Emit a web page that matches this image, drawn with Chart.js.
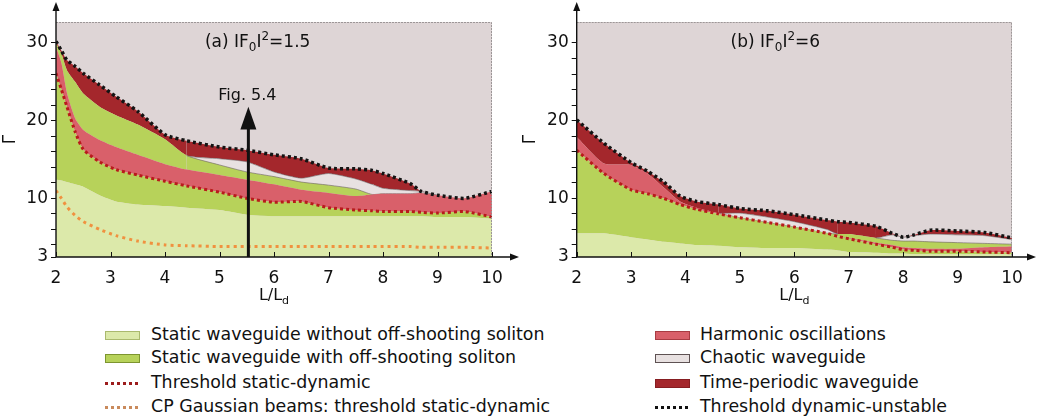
<!DOCTYPE html>
<html>
<head>
<meta charset="utf-8">
<script src="https://cdn.jsdelivr.net/npm/chart.js@4.4.1/dist/chart.umd.min.js"></script>
<style>
  body { margin: 0; width: 1037px; height: 420px; overflow: hidden; position: relative; background: #fff;
         font-family: "DejaVu Sans", sans-serif; color: #111; }
  .wrap { position: absolute; top: 0; height: 310px; }
  .leg { position: absolute; font-size: 17.4px; line-height: 20px; white-space: nowrap; }
  .sw { position: absolute; width: 35px; height: 9px; box-sizing: border-box; border: 1px solid; }
  .dots { position: absolute; width: 34px; height: 3px; }
</style>
</head>
<body>
<div class="wrap" style="left:0;width:520px"><canvas id="chartA" width="520" height="310"></canvas></div>
<div class="wrap" style="left:520px;width:517px"><canvas id="chartB" width="517" height="310"></canvas></div>

<div id="legend"></div>

<script>
/* ---------- colours ---------- */
const COL = {
  bg: "#ded5d6",
  light: "#dce9aa",
  green: "#b7d25a",
  pink: "#d9606a",
  chaos: "#e8e1e1",
  dark: "#a4272c",
  thrSD: "#b81b1b",
  cp: "#f0913f",
  thrDU: "#141414",
};

/* ---------- axis settings ---------- */
const Y_MIN = 2.45, Y_MAX = 32.7;
const yLabelTicks = [10, 20, 30];
const yMinorTicks = [4, 6, 8, 12, 14, 16, 18, 22, 24, 26, 28];
const yBottomLabel = "3";
const xTicks = [2, 3, 4, 5, 6, 7, 8, 9, 10];

/* ---------- panel (a) |F0|^2 = 1.5 : region boundaries ---------- */
const xA = [2, 2.1, 2.2, 2.35, 2.5, 2.8, 3.1, 3.5, 4, 4.4, 5, 5.5, 6, 6.5, 7, 7.5, 7.8, 8, 8.5, 8.7, 9, 9.5, 10];
const lightTopA = [12.4, 12.3, 12.1, 11.8, 11.5, 10.4, 9.6, 9.2, 9.0, 8.8, 8.5, 7.9, 7.7, 7.7, 7.7, 7.7, 7.7, 7.7, 7.7, 7.7, 7.6, 7.6, 7.4];
const thrSDA    = [26.1, 24.0, 21.8, 18.6, 16.3, 14.7, 13.7, 13.0, 12.2, 11.6, 10.8, 10.0, 9.5, 9.6, 8.8, 8.5, 8.4, 8.3, 8.3, 8.2, 8.1, 8.3, 7.6];
const harmTopA  = [29.5, 27.4, 23.6, 20.3, 18.8, 17.5, 16.6, 15.6, 14.4, 13.7, 13.0, 12.4, 11.8, 11.1, 10.7, 10.3, 10.5, 10.6, 10.6, 10.7, 10.4, 10.0, 10.9];
const greenTopA = [30.0, 28.6, 26.5, 25.0, 23.5, 21.8, 20.7, 19.5, 17.6, 15.5, 14.3, 13.4, 12.8, 12.1, 11.7, 11.2, 10.5, 10.6, 10.6, 10.7, 10.4, 10.0, 10.9];
const chaosTopA = [30.0, 28.6, 26.5, 25.0, 23.5, 21.8, 20.7, 19.5, 17.6, 15.5, 15.1, 14.7, 13.4, 12.6, 13.2, 12.5, 11.8, 11.3, 11.0, 10.9, 10.4, 10.0, 10.9];
const thrDUA    = [30.2, 29.0, 27.8, 27.0, 26.1, 24.6, 23.1, 21.2, 18.2, 17.4, 16.6, 16.2, 15.6, 15.1, 13.9, 13.8, 13.6, 13.2, 11.9, 10.9, 10.4, 10.0, 10.9];
const cpA       = [11.0, 10.0, 8.9, 7.8, 7.0, 6.0, 5.2, 4.5, 4.0, 3.9, 3.8, 3.8, 3.8, 3.8, 3.8, 3.8, 3.8, 3.8, 3.8, 3.7, 3.7, 3.7, 3.6];

/* ---------- panel (b) |F0|^2 = 6 : region boundaries ---------- */
const xB = [2, 2.5, 3, 3.3, 3.6, 3.9, 4.2, 4.6, 5, 5.5, 6, 6.6, 6.8, 7, 7.5, 7.8, 8, 8.2, 8.5, 9, 9.5, 10];
const lightTopB = [5.5, 5.5, 5.0, 4.7, 4.4, 4.2, 4.0, 3.9, 3.7, 3.6, 3.6, 3.4, 3.3, 3.1, 3.0, 2.9, 2.9, 2.8, 2.8, 2.8, 2.8, 2.8];
const thrSDB    = [16.2, 13.2, 11.1, 10.6, 10.0, 9.2, 8.6, 8.0, 7.5, 6.9, 6.3, 5.5, 5.1, 4.8, 4.1, 3.7, 3.4, 3.3, 3.2, 3.2, 3.1, 3.0];
const harmTopB  = [17.9, 14.5, 14.3, 13.2, 11.4, 9.6, 8.8, 8.1, 7.5, 6.9, 6.3, 5.5, 5.1, 4.9, 4.3, 4.0, 3.7, 3.6, 3.5, 3.5, 3.7, 3.8];
const greenTopB = [17.9, 14.5, 14.3, 13.2, 11.4, 9.6, 8.8, 8.1, 7.5, 6.9, 6.3, 5.5, 5.4, 5.4, 4.9, 4.6, 4.5, 4.5, 4.4, 4.3, 4.2, 4.1];
const chaosTopB = [17.9, 14.5, 14.3, 13.2, 11.4, 9.6, 8.8, 8.1, 8.1, 7.6, 7.0, 6.0, 5.4, 5.4, 4.9, 5.3, 5.0, 5.2, 5.4, 5.3, 5.2, 4.7];
const thrDUB    = [20.1, 17.1, 14.6, 13.5, 12.1, 10.3, 9.6, 9.2, 8.7, 8.4, 7.9, 7.2, 7.0, 6.9, 6.4, 5.5, 5.0, 5.3, 5.9, 5.8, 5.6, 4.9];

/* ---------- legend ---------- */
const legendLeft = [
  { type: "box", label: "Static waveguide without off-shooting soliton", fill: COL.light, edge: "#aab96e" },
  { type: "box", label: "Static waveguide with off-shooting soliton", fill: COL.green, edge: "#7d9530" },
  { type: "dots", label: "Threshold static-dynamic", color: "#9c1c1c" },
  { type: "dots", label: "CP Gaussian beams: threshold static-dynamic", color: "#c98a5c" },
];
const legendRight = [
  { type: "box", label: "Harmonic oscillations", fill: COL.pink, edge: "#a83c43" },
  { type: "box", label: "Chaotic waveguide", fill: COL.chaos, edge: "#5e5253" },
  { type: "box", label: "Time-periodic waveguide", fill: COL.dark, edge: "#861d21" },
  { type: "dots", label: "Threshold dynamic-unstable", color: "#111" },
];
const legendRows = [334, 357, 382, 406];

Chart.defaults.font.family = "'DejaVu Sans', sans-serif";
Chart.defaults.color = "#111";

/* draw text with _sub and ^sup parts, centred on x */
function drawRich(ctx, parts, cx, cy, size) {
  const small = Math.round(size * 0.68);
  let w = 0;
  parts.forEach(p => {
    ctx.font = (p[1] === "n" ? size : small) + "px 'DejaVu Sans'";
    w += ctx.measureText(p[0]).width;
  });
  let x = cx - w / 2;
  ctx.textBaseline = "middle";
  ctx.textAlign = "left";
  parts.forEach(p => {
    ctx.font = (p[1] === "n" ? size : small) + "px 'DejaVu Sans'";
    const dy = p[1] === "sub" ? size * 0.3 : p[1] === "sup" ? -size * 0.38 : 0;
    ctx.fillText(p[0], x, cy + dy);
    x += ctx.measureText(p[0]).width;
  });
}

function makeDecor(label, labelX, withFig) {
  return {
    id: "decor",
    beforeDraw(chart) {
      const { ctx, chartArea: a } = chart;
      ctx.save();
      ctx.fillStyle = COL.bg;
      ctx.fillRect(a.left, a.top, a.right - a.left, a.bottom - a.top);
      ctx.restore();
    },
    afterDraw(chart) {
      const { ctx, chartArea: a, scales: { x, y } } = chart;
      ctx.save();
      // light frame on top / right
      ctx.strokeStyle = "#9c9697";
      ctx.lineWidth = 1;
      ctx.setLineDash([2, 1]);
      ctx.beginPath();
      ctx.moveTo(a.left, a.top + 0.5);
      ctx.lineTo(a.right - 0.5, a.top + 0.5);
      ctx.lineTo(a.right - 0.5, a.bottom);
      ctx.stroke();
      ctx.setLineDash([]);
      // axes with arrows
      ctx.strokeStyle = "#111";
      ctx.fillStyle = "#111";
      ctx.lineWidth = 1.4;
      ctx.beginPath();
      ctx.moveTo(a.left, a.bottom);
      ctx.lineTo(a.left, 8);
      ctx.moveTo(a.left, a.bottom);
      ctx.lineTo(chart.width - 8, a.bottom);
      ctx.stroke();
      ctx.beginPath();
      ctx.moveTo(a.left, 2); ctx.lineTo(a.left - 3.5, 11); ctx.lineTo(a.left + 3.5, 11); ctx.closePath();
      ctx.fill();
      ctx.beginPath();
      ctx.moveTo(chart.width - 1, a.bottom); ctx.lineTo(chart.width - 10, a.bottom - 3.5); ctx.lineTo(chart.width - 10, a.bottom + 3.5); ctx.closePath();
      ctx.fill();
      // x ticks pointing inside
      ctx.lineWidth = 1;
      xTicks.forEach(v => {
        const px = Math.round(x.getPixelForValue(v)) + 0.5;
        ctx.beginPath();
        ctx.moveTo(px, a.bottom);
        ctx.lineTo(px, a.bottom - 5);
        ctx.stroke();
      });
      // x-axis title L/L_d
      drawRich(ctx, [["L/L", "n"], ["d", "sub"]], (a.left + a.right) / 2, 296, 16);
      // panel label
      drawRich(ctx, label, x.getPixelForValue(labelX), y.getPixelForValue(30), 17);
      if (withFig) {
        const fx = x.getPixelForValue(5.53);
        const tip = y.getPixelForValue(21.8), base = y.getPixelForValue(19.0);
        ctx.lineWidth = 3;
        ctx.beginPath();
        ctx.moveTo(fx, a.bottom);
        ctx.lineTo(fx, base);
        ctx.stroke();
        ctx.beginPath();
        ctx.moveTo(fx, tip); ctx.lineTo(fx - 8, base + 1); ctx.lineTo(fx + 8, base + 1); ctx.closePath();
        ctx.fill();
        drawRich(ctx, [["Fig. 5.4", "n"]], fx - 1, y.getPixelForValue(23.2), 16);
      }
      ctx.restore();
    },
  };
}

function buildDatasets(xs, b, cp) {
  const pts = arr => xs.map((v, i) => ({ x: v, y: arr[i] }));
  const chaosEdge = ctx => {
    const i0 = ctx.p0DataIndex, i1 = ctx.p1DataIndex;
    const on = b.chaos[i0] - b.green[i0] > 0.05 || b.chaos[i1] - b.green[i1] > 0.05;
    return on ? "rgba(110,98,100,0.6)" : "rgba(0,0,0,0)";
  };
  const lines = [
    { data: pts(b.thrDU), borderColor: COL.thrDU, borderWidth: 3.5, borderDash: [3, 3], fill: false },
    { data: pts(b.thrSD), borderColor: COL.thrSD, borderWidth: 3, borderDash: [3, 3], fill: false },
  ];
  if (cp) lines.push({ data: pts(cp), borderColor: COL.cp, borderWidth: 3, borderDash: [3, 4], fill: false });
  const areas = [
    { data: pts(b.light), fill: "start", backgroundColor: COL.light, borderWidth: 0, borderColor: "rgba(0,0,0,0)" },
    { data: pts(b.thrSD), fill: "-1", backgroundColor: COL.green, borderWidth: 0, borderColor: "rgba(0,0,0,0)" },
    { data: pts(b.harm), fill: "-1", backgroundColor: COL.pink, borderWidth: 0, borderColor: "rgba(0,0,0,0)" },
    { data: pts(b.green), fill: "-1", backgroundColor: COL.green, borderWidth: 1, segment: { borderColor: chaosEdge } },
    { data: pts(b.chaos), fill: "-1", backgroundColor: COL.chaos, borderWidth: 1, segment: { borderColor: chaosEdge } },
    { data: pts(b.thrDU), fill: "-1", backgroundColor: COL.dark, borderWidth: 0, borderColor: "rgba(0,0,0,0)" },
  ];
  return lines.concat(areas);
}

function makeChart(id, xs, b, cp, label, labelX, withFig) {
  return new Chart(document.getElementById(id), {
    type: "line",
    data: { datasets: buildDatasets(xs, b, cp) },
    plugins: [makeDecor(label, labelX, withFig)],
    options: {
      responsive: false,
      animation: false,
      events: [],
      layout: { padding: { top: 22, right: id === "chartA" ? 28 : 25, left: 0, bottom: 0 } },
      elements: { point: { radius: 0 }, line: { tension: 0.2, borderCapStyle: "butt" } },
      plugins: { legend: { display: false }, tooltip: { enabled: false } },
      scales: {
        x: {
          type: "linear", min: 2, max: 10,
          afterBuildTicks: s => { s.ticks = xTicks.map(v => ({ value: v })); },
          afterFit: s => { s.height = 53; },
          grid: { display: false, drawTicks: false },
          border: { display: false },
          ticks: { padding: 11, font: { size: 17 }, color: "#111" },
        },
        y: {
          type: "linear", min: Y_MIN, max: Y_MAX,
          afterBuildTicks: s => {
            s.ticks = [Y_MIN].concat(yMinorTicks, yLabelTicks).sort((p, q) => p - q).map(v => ({ value: v }));
          },
          afterFit: s => { s.width = id === "chartA" ? 56 : 56.7; },
          grid: { drawOnChartArea: false, tickLength: 5, color: "#111" },
          border: { display: false },
          title: { display: true, text: "Γ", font: { size: 17 }, padding: { top: 0, bottom: 0 }, color: "#111" },
          ticks: {
            padding: 3, font: { size: 17 }, color: "#111", autoSkip: false,
            callback: v => (v === Y_MIN ? yBottomLabel : yLabelTicks.includes(v) ? String(v) : ""),
          },
        },
      },
    },
  });
}

makeChart("chartA", xA,
  { light: lightTopA, thrSD: thrSDA, harm: harmTopA, green: greenTopA, chaos: chaosTopA, thrDU: thrDUA },
  cpA, [["(a) IF", "n"], ["0", "sub"], ["I", "n"], ["2", "sup"], ["=1.5", "n"]], 5.7, true);

makeChart("chartB", xB,
  { light: lightTopB, thrSD: thrSDB, harm: harmTopB, green: greenTopB, chaos: chaosTopB, thrDU: thrDUB },
  null, [["(b) IF", "n"], ["0", "sub"], ["I", "n"], ["2", "sup"], ["=6", "n"]], 5.65, false);

/* ---------- HTML legend ---------- */
const legendEl = document.getElementById("legend");
function addLegend(items, swLeft, textLeft) {
  items.forEach((it, i) => {
    const cy = legendRows[i];
    const sw = document.createElement("div");
    if (it.type === "box") {
      sw.className = "sw";
      sw.style.left = swLeft + "px";
      sw.style.top = (cy - 3) + "px";
      sw.style.background = it.fill;
      sw.style.borderColor = it.edge;
    } else {
      sw.className = "dots";
      sw.style.left = swLeft + "px";
      sw.style.top = (cy) + "px";
      sw.style.background = `repeating-linear-gradient(90deg, ${it.color} 0 3px, transparent 3px 6px)`;
    }
    legendEl.appendChild(sw);
    const t = document.createElement("div");
    t.className = "leg";
    t.style.left = textLeft + "px";
    t.style.top = (cy - 10) + "px";
    t.textContent = it.label;
    legendEl.appendChild(t);
  });
}
addLegend(legendLeft, 105, 151);
addLegend(legendRight, 655, 700);
</script>
</body>
</html>
